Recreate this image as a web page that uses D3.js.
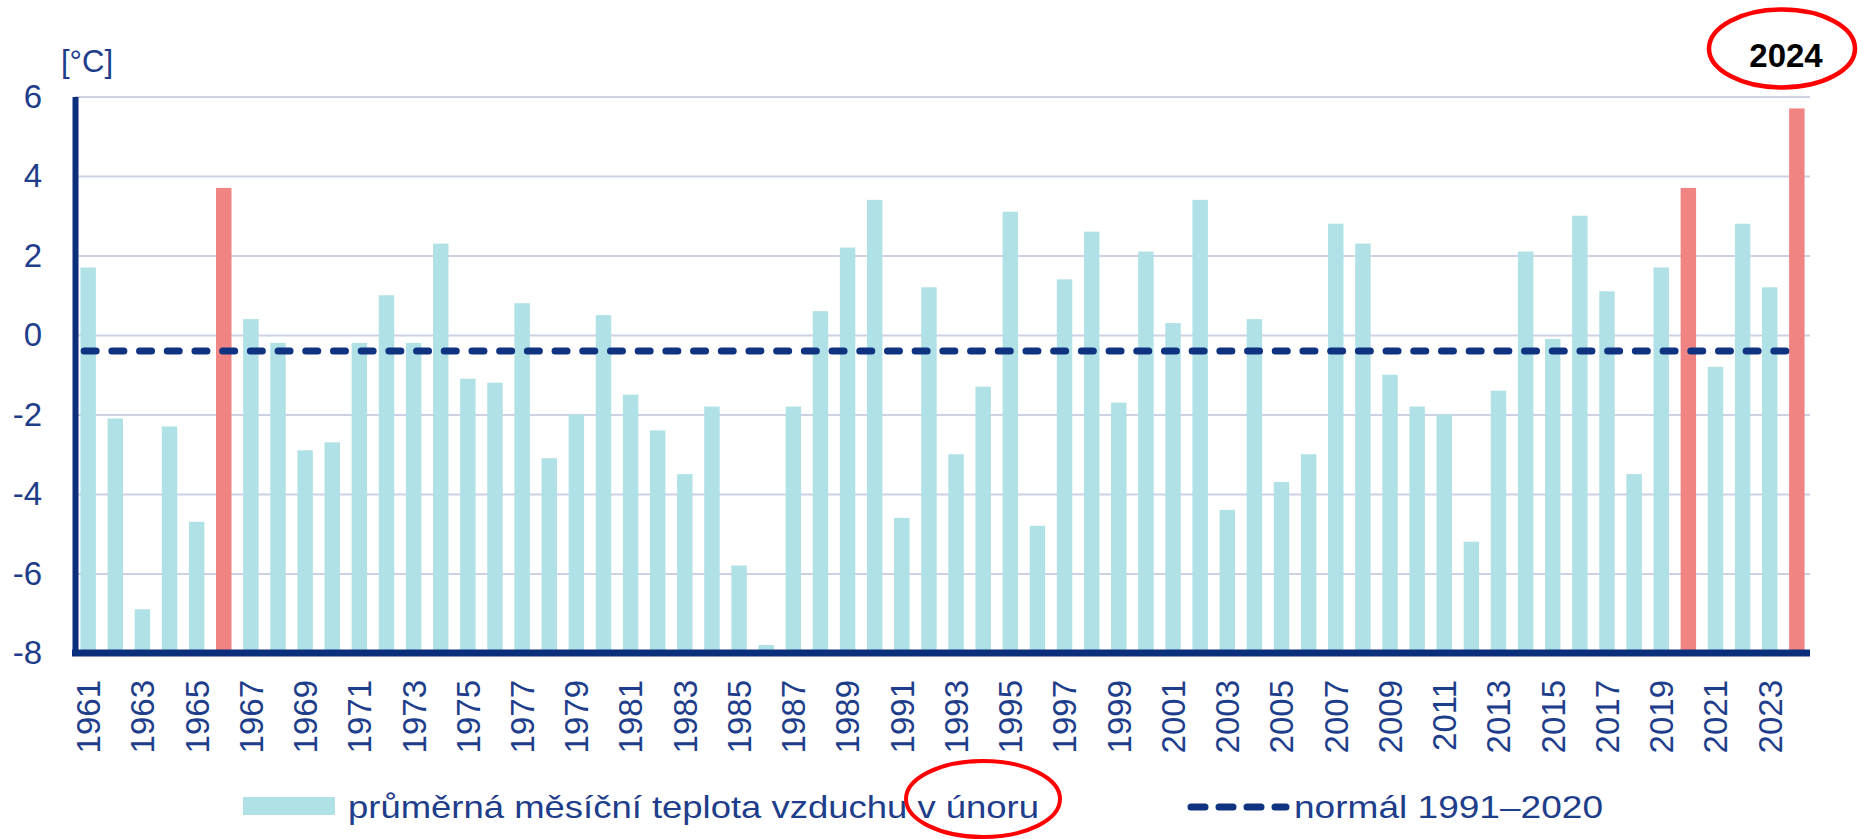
<!DOCTYPE html>
<html>
    <head>
        <meta charset="utf-8" />
        <style>
            body{ margin: 0; background: #fff; }
            svg{ display: block; }
            text{ font-family: "Liberation Sans", Arial, sans-serif; fill: #1e3d8a; }
        </style>
    </head>
    <body>
        <svg id="unor" width="1858" height="839"></svg>
        <script src="https://cdnjs.cloudflare.com/ajax/libs/d3/7.8.5/d3.min.js" charset="utf-8"></script>
        <script>
            // průměrná teplota vzduchu v únoru, ČR
            var years = d3.range(1961, 2025);
            var temps = [
                1.7, -2.1, -6.9, -2.3, -4.7, 3.7, 0.4, -0.2, -2.9, -2.7,
                -0.2, 1.0, -0.2, 2.3, -1.1, -1.2, 0.8, -3.1, -2.0, 0.5,
                -1.5, -2.4, -3.5, -1.8, -5.8, -7.8, -1.8, 0.6, 2.2, 3.4,
                -4.6, 1.2, -3.0, -1.3, 3.1, -4.8, 1.4, 2.6, -1.7, 2.1,
                0.3, 3.4, -4.4, 0.4, -3.7, -3.0, 2.8, 2.3, -1.0, -1.8,
                -2.0, -5.2, -1.4, 2.1, -0.1, 3.0, 1.1, -3.5, 1.7, 3.7,
                -0.8, 2.8, 1.2, 5.7
            ];
            var highlighted = [1966, 2020, 2024];
            var normal = -0.4;
            var yTicks = [-8, -6, -4, -2, 0, 2, 4, 6];
            var xLabels = years.filter(function(d){ return d % 2 == 1; });
            var legendBars = 'průměrná měsíční teplota vzduchu v únoru';
            var legendNormal = 'normál 1991–2020';

            var svg = d3.select('#unor');
            var plotLeft = 75, plotRight = 1810, plotTop = 96.5, plotBottom = 653;

            var x = d3.scaleBand().domain(years).range([plotLeft, plotRight])
                .paddingInner(0.43).paddingOuter(0.2);
            var y = d3.scaleLinear().domain([-8, 6]).range([plotBottom, plotTop]);

            // gridlines
            svg.append('g')
                .attr('transform', 'translate(' + plotLeft + ',0)')
                .call(d3.axisLeft(y).tickValues(yTicks).tickSize(-(plotRight - plotLeft)).tickFormat(''))
                .call(function(g){
                    g.select('.domain').remove();
                    g.selectAll('line').attr('stroke', '#ccd2e4').attr('stroke-width', 2);
                });

            // bars from bottom of axis
            svg.append('g').selectAll('rect')
                .data(years)
                .enter().append('rect')
                .attr('x', function(d){ return x(d); })
                .attr('width', x.bandwidth())
                .attr('y', function(d, i){ return y(temps[i]); })
                .attr('height', function(d, i){ return y(-8) - y(temps[i]); })
                .attr('fill', function(d){
                    return highlighted.indexOf(d) >= 0 ? '#f08482' : '#b0e1e6';
                });

            // normal line
            svg.append('line')
                .attr('x1', x(1961) + x.bandwidth() / 2 - 4)
                .attr('x2', x(2024) + x.bandwidth() / 2)
                .attr('y1', y(normal)).attr('y2', y(normal))
                .attr('stroke', '#0f3380').attr('stroke-width', 7)
                .attr('stroke-linecap', 'round')
                .attr('stroke-dasharray', '12 15.7');

            // y axis (plain hyphen for negatives, like the original)
            svg.append('g')
                .attr('transform', 'translate(' + plotLeft + ',0)')
                .call(d3.axisLeft(y).tickValues(yTicks).tickSize(0).tickPadding(33)
                    .tickFormat(function(d){ return String(d); }))
                .call(function(g){
                    g.select('.domain').attr('stroke', '#0c2f7c').attr('stroke-width', 6);
                    g.selectAll('text').attr('font-size', 33).style('font-family', null);
                });

            // x axis
            svg.append('g')
                .attr('transform', 'translate(0,' + plotBottom + ')')
                .call(d3.axisBottom(x).tickValues(xLabels).tickSize(0))
                .call(function(g){
                    g.select('.domain').attr('d', 'M' + (plotLeft - 3) + ',0H' + plotRight)
                        .attr('stroke', '#0c2f7c').attr('stroke-width', 7);
                    g.selectAll('text')
                        .attr('font-size', 33)
                        .style('font-family', null)
                        .attr('transform', 'rotate(-90)')
                        .attr('x', -27).attr('y', 0).attr('dy', '0.36em')
                        .attr('text-anchor', 'end');
                });

            svg.append('text').attr('x', 61).attr('y', 72)
                .attr('font-size', 31).text('[°C]');

            // legend
            var legend = svg.append('g');
            legend.append('rect').attr('x', 243).attr('y', 797)
                .attr('width', 92).attr('height', 18).attr('fill', '#b0e1e6');
            legend.append('text').attr('x', 348).attr('y', 818)
                .attr('font-size', 32).attr('textLength', 691)
                .attr('lengthAdjust', 'spacingAndGlyphs').text(legendBars);
            legend.append('line').attr('x1', 1191).attr('x2', 1286)
                .attr('y1', 807).attr('y2', 807)
                .attr('stroke', '#0f3380').attr('stroke-width', 7)
                .attr('stroke-linecap', 'round').attr('stroke-dasharray', '14 14');
            legend.append('text').attr('x', 1294).attr('y', 818)
                .attr('font-size', 32).attr('textLength', 309)
                .attr('lengthAdjust', 'spacingAndGlyphs').text(legendNormal);

            // annotations
            svg.append('ellipse').attr('cx', 983).attr('cy', 799)
                .attr('rx', 77).attr('ry', 38)
                .attr('fill', 'none').attr('stroke', '#f00').attr('stroke-width', 4);
            svg.append('ellipse').attr('cx', 1782).attr('cy', 48.5)
                .attr('rx', 73).attr('ry', 39)
                .attr('fill', 'none').attr('stroke', '#f00').attr('stroke-width', 4.5);
            svg.append('text').attr('x', 1786).attr('y', 67)
                .attr('text-anchor', 'middle').attr('font-size', 33)
                .attr('font-weight', 'bold').style('fill', '#000').text('2024');
        </script>
    </body>
</html>
